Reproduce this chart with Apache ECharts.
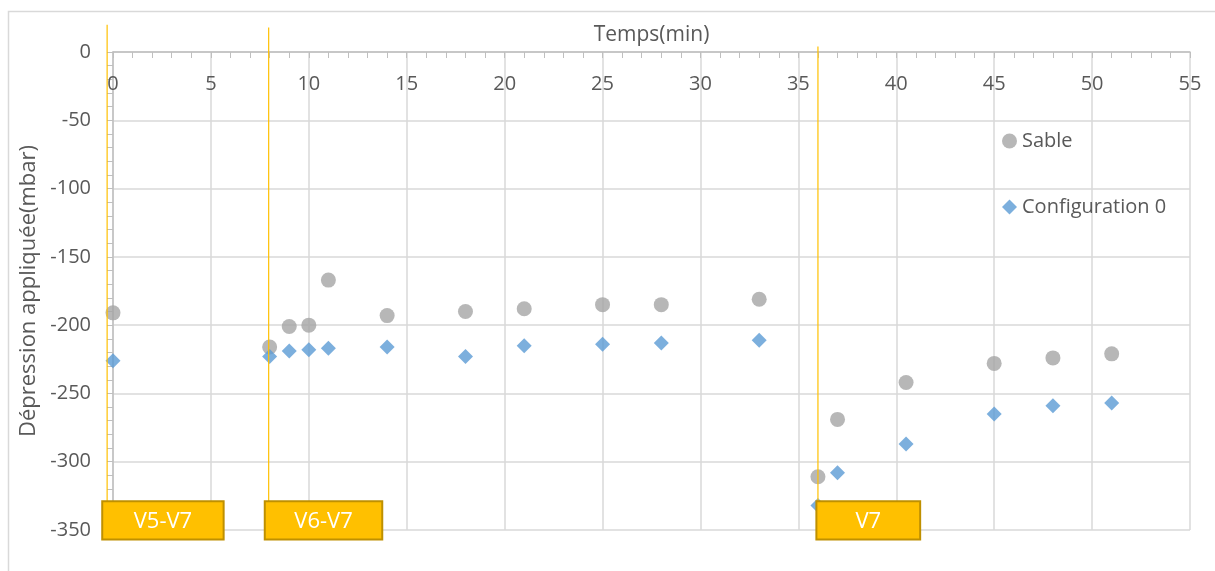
<!DOCTYPE html>
<html>
<head>
<meta charset="utf-8">
<script src="https://cdn.jsdelivr.net/npm/echarts@6/dist/echarts.min.js"></script>
<style>
html,body{margin:0;padding:0;background:#fff;}
#chart{width:1215px;height:571px;}
</style>
</head>
<body>
<div id="chart"></div>
<script>
// ---- data ----
var timeSable = [0, 8, 9, 10, 11, 14, 18, 21, 25, 28, 33, 36, 37, 40.5, 45, 48, 51];
var valuesSable = [-191, -216, -201, -200, -167, -193, -190, -188, -185, -185, -181, -311, -269, -242, -228, -224, -221];
var timeConfig0 = [0, 8, 9, 10, 11, 14, 18, 21, 25, 28, 33, 36, 37, 40.5, 45, 48, 51];
var valuesConfig0 = [-226, -223, -219, -218, -217, -216, -223, -215, -214, -213, -211, -332, -308, -287, -265, -259, -257];
var seriesNames = ['Sable', 'Configuration 0'];

// annotation (valve phases)
var phaseLabels = ['V5-V7', 'V6-V7', 'V7'];
var phaseLineX = [-0.3, 7.95, 36.0];
var phaseLineTop = [20, 18, 4];
var phaseLineBottom = -357;
var phaseBoxLeft = [-0.55, 7.75, 35.92];
var phaseBoxWidth = [6.2, 6.0, 5.3];
var phaseBoxTop = -329;
var phaseBoxBottom = -357;

var xMin = 0, xMax = 55, xInterval = 5;
var yMin = -350, yMax = 0, yInterval = 50;

function zip(xs, ys){ return xs.map(function(x,i){ return [x, ys[i]]; }); }

var FONT = 'Open Sans';
var TXT = '#595959';

var chart = echarts.init(document.getElementById('chart'), null, {renderer:'canvas'});
var option = {
  backgroundColor: '#fff',
  animation: false,
  textStyle: {fontFamily: FONT},
  grid: {left: 113, right: 25, top: 52, bottom: 41, containLabel: false},
  legend: {
    orient: 'vertical',
    left: 997, top: 126,
    itemWidth: 15, itemHeight: 15, itemGap: 46, itemTextGap: 5,
    textStyle: {color: TXT, fontSize: 20, fontFamily: FONT},
    data: [
      {name: seriesNames[0], icon: 'circle'},
      {name: seriesNames[1], icon: 'diamond'}
    ]
  },
  xAxis: {
    type: 'value', position: 'top',
    min: xMin, max: xMax, interval: xInterval,
    name: 'Temps(min)', nameLocation: 'middle', nameGap: 6,
    nameTextStyle: {color: TXT, fontSize: 21, fontFamily: FONT},
    axisLine: {show: true, onZero: false, lineStyle: {color: '#BFBFBF', width: 1.5}},
    axisTick: {show: true, inside: true, length: 6, lineStyle: {color: '#BFBFBF'}},
    minorTick: {show: true, splitNumber: 5, length: 6, lineStyle: {color: '#BFBFBF'}},
    axisLabel: {inside: true, margin: 22, color: TXT, fontSize: 20, fontFamily: FONT},
    splitLine: {show: true, lineStyle: {color: '#D9D9D9', width: 1.5}}
  },
  yAxis: {
    type: 'value',
    min: yMin, max: yMax, interval: yInterval,
    name: 'Dépression appliquée(mbar)', nameLocation: 'middle', nameGap: 64,
    nameTextStyle: {color: TXT, fontSize: 22, fontFamily: FONT},
    axisLine: {show: true, onZero: false, lineStyle: {color: '#BFBFBF', width: 1.5}},
    axisTick: {show: true, inside: false, length: 6, lineStyle: {color: '#BFBFBF'}},
    minorTick: {show: true, splitNumber: 5, length: 6, lineStyle: {color: '#BFBFBF'}},
    axisLabel: {margin: 22, color: TXT, fontSize: 20, fontFamily: FONT},
    splitLine: {show: true, lineStyle: {color: '#D9D9D9', width: 1.5}}
  },
  series: [
    {
      name: seriesNames[0], type: 'scatter', symbol: 'circle', symbolSize: 15,
      itemStyle: {color: '#A5A5A5'},
      data: zip(timeSable, valuesSable), z: 3
    },
    {
      name: seriesNames[1], type: 'scatter', symbol: 'diamond', symbolSize: 15,
      itemStyle: {color: '#5B9BD5'},
      data: zip(timeConfig0, valuesConfig0), z: 4
    }
  ]
};
chart.setOption(option);

function px(x, y){ return chart.convertToPixel({gridIndex: 0}, [x, y]); }

var graphics = [{
  type: 'rect', silent: true, z: -10,
  shape: {x: 8.5, y: 11.5, width: 1400, height: 800},
  style: {fill: 'none', stroke: '#D9D9D9', lineWidth: 1.5}
}];
phaseLabels.forEach(function(lbl, i){
  var t = px(phaseLineX[i], phaseLineTop[i]);
  var b = px(phaseLineX[i], phaseLineBottom);
  graphics.push({
    type: 'line', silent: true, z: 50,
    shape: {x1: t[0], y1: t[1], x2: b[0], y2: b[1]},
    style: {stroke: '#FFC000', lineWidth: 1.2}
  });
  var p1 = px(phaseBoxLeft[i], phaseBoxTop);
  var p2 = px(phaseBoxLeft[i] + phaseBoxWidth[i], phaseBoxBottom);
  graphics.push({
    type: 'rect', silent: true, z: 60,
    shape: {x: p1[0], y: p1[1], width: p2[0] - p1[0], height: p2[1] - p1[1]},
    style: {fill: '#FFC000', stroke: '#BF9000', lineWidth: 2}
  });
  graphics.push({
    type: 'text', silent: true, z: 61,
    x: (p1[0] + p2[0]) / 2, y: (p1[1] + p2[1]) / 2 + 1,
    style: {text: lbl, fill: '#fff', fontSize: 22, fontFamily: FONT, align: 'center', verticalAlign: 'middle'}
  });
});
chart.setOption({graphic: graphics});
</script>
</body>
</html>
